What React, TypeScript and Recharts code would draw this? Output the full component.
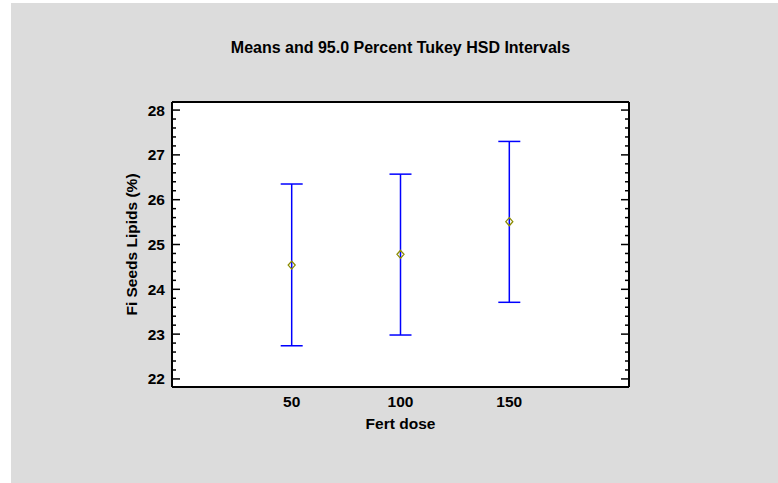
import { CartesianGrid, ComposedChart, ErrorBar, Scatter, XAxis, YAxis } from "recharts";

const FONT = "'Liberation Sans', Arial, sans-serif";
const BLUE = "#0000FF";
const OLIVE = "#8C8C00";
const PANEL = "#DCDCDC";

// Tukey HSD intervals
const DOSES = [50, 100, 150];
const MEANS = [24.54, 24.78, 25.51];
const LOWER = [22.74, 22.98, 23.71];
const UPPER = [26.35, 26.57, 27.3];

const X_TICKS = [50, 100, 150];
const X_DOMAIN: [number, number] = [-5, 205];
const Y_MAJOR = [22, 23, 24, 25, 26, 27, 28];
const Y_DOMAIN: [number, number] = [21.82, 28.18];

// majors plus four minor ticks between each pair
const Y_TICKS = Y_MAJOR.flatMap((v, i) =>
  i === Y_MAJOR.length - 1 ? [v] : [v, v + 0.2, v + 0.4, v + 0.6, v + 0.8].map((t) => Math.round(t * 10) / 10)
);

const data = DOSES.map((dose, i) => ({
  dose,
  mean: MEANS[i],
  err: [MEANS[i] - LOWER[i], UPPER[i] - MEANS[i]],
}));

const isMajor = (v: number) => Math.abs(v - Math.round(v)) < 1e-6;

function LeftTick(props: any) {
  const { x, y, payload } = props;
  const ax = x + 7;
  const major = isMajor(payload.value);
  return (
    <g>
      <line x1={ax} x2={ax + (major ? 8 : 4)} y1={y} y2={y} stroke="#000" strokeWidth={1.5} />
      {major && (
        <text x={x} y={y} dy="0.355em" textAnchor="end" fontFamily={FONT} fontWeight="bold" fontSize={15.5} fill="#000">
          {payload.value}
        </text>
      )}
    </g>
  );
}

function RightTick(props: any) {
  const { x, y, payload } = props;
  const major = isMajor(payload.value);
  return <line x1={x} x2={x - (major ? 8 : 4)} y1={y} y2={y} stroke="#000" strokeWidth={1.5} />;
}

function Diamond(props: any) {
  const { cx, cy } = props;
  return (
    <path
      d={`M${cx},${cy - 4} L${cx + 3.5},${cy} L${cx},${cy + 4} L${cx - 3.5},${cy} Z`}
      fill="none"
      stroke={OLIVE}
      strokeWidth={1.3}
    />
  );
}

export default function App() {
  return (
    <div style={{ position: "absolute", left: 0, top: 0, width: 778, height: 483, background: "#fff" }}>
      <div style={{ position: "absolute", left: 11, top: 3, width: 767, height: 480, background: PANEL }} />
      <div style={{ position: "absolute", left: 0, top: 0 }}>
        <ComposedChart width={778} height={483} data={data} margin={{ top: 100, right: 139, bottom: 46, left: 112 }}>
          <CartesianGrid fill="#fff" horizontal={false} vertical={false} />
          <XAxis
            dataKey="dose"
            type="number"
            domain={X_DOMAIN}
            ticks={X_TICKS}
            allowDataOverflow
            height={50}
            tickSize={0}
            tickMargin={9}
            tickLine={false}
            axisLine={{ stroke: "#000", strokeWidth: 2 }}
            tick={{ fill: "#000", fontFamily: FONT, fontWeight: "bold", fontSize: 15.5 }}
            label={{
              value: "Fert dose",
              position: "insideBottom",
              offset: 8,
              fill: "#000",
              fontFamily: FONT,
              fontWeight: "bold",
              fontSize: 15.5,
            }}
          />
          <XAxis
            xAxisId="top"
            orientation="top"
            type="number"
            domain={X_DOMAIN}
            allowDataOverflow
            height={2}
            tick={false}
            tickLine={false}
            axisLine={{ stroke: "#000", strokeWidth: 2 }}
            label={{
              content: ({ viewBox }: any) => (
                <text
                  x={viewBox.x + viewBox.width / 2}
                  y={53}
                  textAnchor="middle"
                  fontFamily={FONT}
                  fontWeight="bold"
                  fontSize={16}
                  fill="#000"
                >
                  Means and 95.0 Percent Tukey HSD Intervals
                </text>
              ),
            }}
          />
          <YAxis
            dataKey="mean"
            type="number"
            domain={Y_DOMAIN}
            ticks={Y_TICKS}
            interval={0}
            allowDataOverflow
            width={60}
            tickSize={0}
            tickMargin={7}
            tickLine={false}
            axisLine={{ stroke: "#000", strokeWidth: 2 }}
            tick={<LeftTick />}
            label={{
              content: ({ viewBox }: any) => {
                const lx = viewBox.x + 25;
                const ly = viewBox.y + viewBox.height / 2;
                return (
                  <text
                    x={lx}
                    y={ly}
                    transform={`rotate(-90 ${lx} ${ly})`}
                    textAnchor="middle"
                    fontFamily={FONT}
                    fontWeight="bold"
                    fontSize={15.5}
                    fill="#000"
                  >
                    Fi Seeds Lipids (%)
                  </text>
                );
              },
            }}
          />
          <YAxis
            yAxisId="right"
            orientation="right"
            type="number"
            domain={Y_DOMAIN}
            ticks={Y_TICKS}
            interval={0}
            allowDataOverflow
            width={10}
            tickSize={0}
            tickMargin={0}
            tickLine={false}
            axisLine={{ stroke: "#000", strokeWidth: 2 }}
            tick={<RightTick />}
          />
          <Scatter dataKey="mean" shape={<Diamond />} isAnimationActive={false}>
            <ErrorBar dataKey="err" direction="y" width={11} stroke={BLUE} strokeWidth={1.5} isAnimationActive={false} />
          </Scatter>
        </ComposedChart>
      </div>
    </div>
  );
}
